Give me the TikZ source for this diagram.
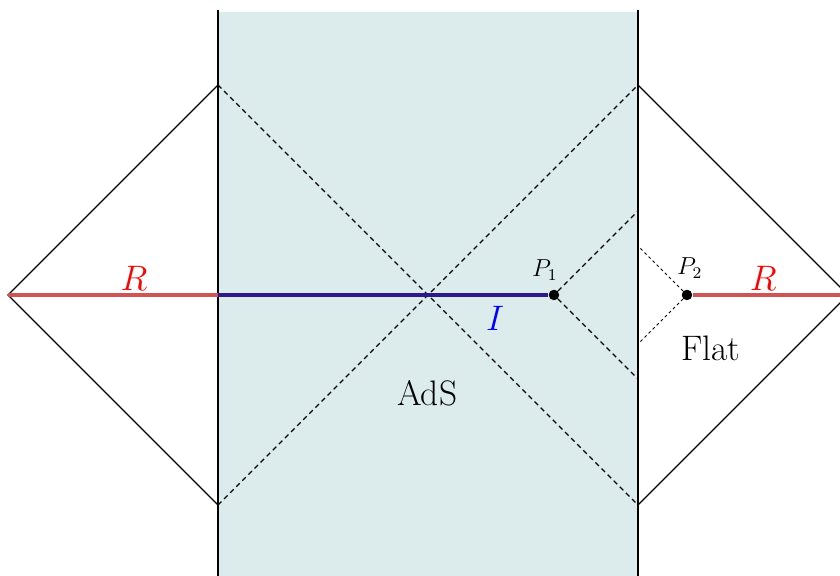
\documentclass[tikz,border=0pt]{standalone}
\usepackage{amsmath}
\usepackage{tikz}
\usetikzlibrary{positioning}
\usepackage{xcolor}
\definecolor{adsfill}{RGB}{220,236,236}
\definecolor{radline}{RGB}{208,84,84}
\definecolor{islline}{RGB}{45,25,140}

\begin{document}
\begin{tikzpicture}[x=1.2cm, y=1.2cm, font=\LARGE]
\tikzset{
  wall/.style={draw=black, semithick},
  cone/.style={dash pattern=on 2.4pt off 1.8pt, semithick},
  smallcone/.style={dash pattern=on 1.4pt off 1.4pt, thin},
  rad/.style={draw=radline, line width=1.7pt},
  isl/.style={draw=islline, line width=1.7pt},
  dot/.style={circle, fill=black, inner sep=0pt, minimum size=5pt},
  plabel/.style={font=\large, inner sep=1pt},
}
\clip (-3.114,-4.014) rectangle (8.886,4.214);
\fill[adsfill] (0,-4.1) rectangle (6,4.04);
% diamond corners
\coordinate (ltip) at (-3,0);
\coordinate (ltop) at (0,3);
\coordinate (lbot) at (0,-3);
\coordinate (rtop) at (6,3);
\coordinate (rbot) at (6,-3);
\coordinate (rtip) at (9,0);
\coordinate (lmid) at (0,0);
% points on the wall
\coordinate (wa) at (6,1.2);
\coordinate (wb) at (6,-1.2);
\coordinate (wc) at (6,0.7);
\coordinate (wd) at (6,-0.7);
\node[dot] (p1) at (4.8,0) {};
\node[dot] (p2) at (6.7,0) {};
\draw[cone] (ltop) -- (rbot);
\draw[cone] (lbot) -- (rtop);
\draw[cone] (p1) -- (wa);
\draw[cone] (p1) -- (wb);
\draw[smallcone] (p2) -- (wc);
\draw[smallcone] (p2) -- (wd);
\draw[wall] (0,4.07) -- (0,-4.1);
\draw[wall] (6,4.07) -- (6,-4.1);
\draw[wall] (ltop) -- (ltip) -- (lbot);
\draw[wall] (rtop) -- (rtip) -- (rbot);
\draw[rad] (ltip) -- (lmid);
\draw[rad] (p2) -- (rtip);
\draw[isl] (lmid) -- (p1);
\node[dot] at (p1) {};
\node[dot] at (p2) {};
\node[plabel] (p1lab) at (4.67,0.36) {$P_1$};
\node[plabel] (p2lab) at (6.74,0.38) {$P_2$};
\node[text=red] (rleft) at (-1.2,0.24) {$R$};
\node[text=red] (rright) at (7.79,0.24) {$R$};
\node[text=blue] (ilab) at (3.96,-0.33) {$I$};
\node (ads) at (2.99,-1.4) {AdS};
\node (flat) at (7.04,-0.76) {Flat};
\end{tikzpicture}
\end{document}
